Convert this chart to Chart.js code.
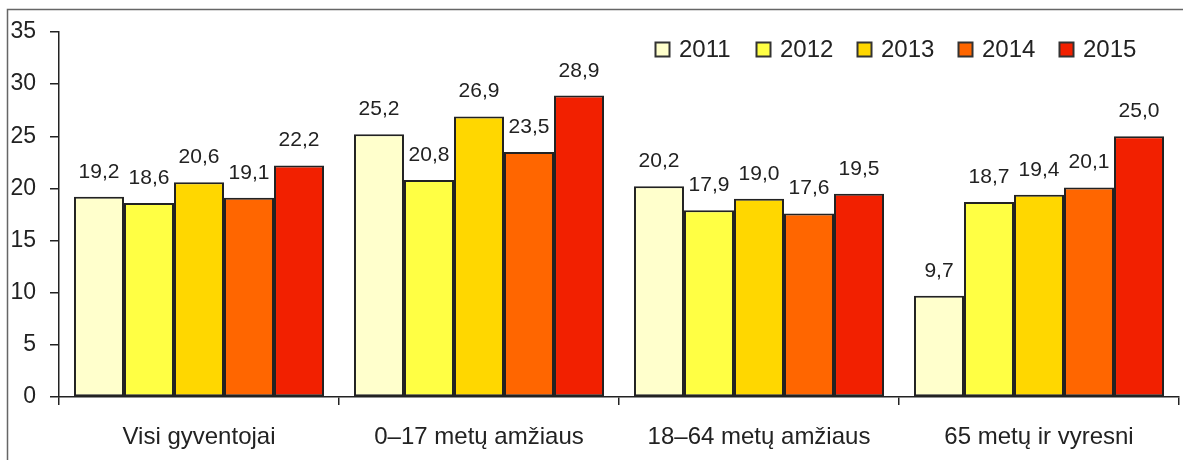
<!DOCTYPE html>
<html>
<head>
<meta charset="utf-8">
<script src="https://cdn.jsdelivr.net/npm/chart.js@4"></script>
<style>
  html, body { margin: 0; padding: 0; background: #fff; }
  #wrap { position: relative; width: 1183px; height: 460px; }
</style>
</head>
<body>
<div id="wrap"><canvas id="myChart" width="1183" height="460"></canvas></div>
<script>
// datos
const categorias = ['Visi gyventojai', '0\u201317 metų amžiaus', '18\u201364 metų amžiaus', '65 metų ir vyresni'];
const anios = ['2011', '2012', '2013', '2014', '2015'];
const v2011 = [19.2, 25.2, 20.2, 9.7];
const v2012 = [18.6, 20.8, 17.9, 18.7];
const v2013 = [20.6, 26.9, 19.0, 19.4];
const v2014 = [19.1, 23.5, 17.6, 20.1];
const v2015 = [22.2, 28.9, 19.5, 25.0];
const yTicks = [0, 5, 10, 15, 20, 25, 30, 35];

const colores = ['#FFFFCC', '#FFFF44', '#FFD700', '#FF6600', '#F22000'];
const FONT = 'Liberation Sans, Arial, sans-serif';

const series = [v2011, v2012, v2013, v2014, v2015];

// marco gris a la izquierda y arriba
const marco = {
  id: 'marco',
  beforeDraw(chart) {
    const c = chart.ctx;
    c.save();
    c.strokeStyle = '#666';
    c.lineWidth = 1.5;
    c.beginPath();
    c.moveTo(7.5, 460);
    c.lineTo(7.5, 9.5);
    c.lineTo(1183, 9.5);
    c.stroke();
    c.restore();
  }
};

// etiquetas de valores encima de cada barra
const etiquetas = {
  id: 'etiquetas',
  afterDatasetsDraw(chart) {
    const c = chart.ctx;
    c.save();
    c.font = '21px ' + FONT;
    c.fillStyle = '#222';
    c.textAlign = 'center';
    c.textBaseline = 'alphabetic';
    chart.data.datasets.forEach((ds, i) => {
      chart.getDatasetMeta(i).data.forEach((bar, j) => {
        const txt = ds.data[j].toFixed(1).replace('.', ',');
        c.fillText(txt, bar.x, bar.y - 19);
      });
    });
    c.restore();
  }
};

// leyenda propia arriba a la derecha
const leyenda = {
  id: 'leyenda',
  afterDraw(chart) {
    const c = chart.ctx;
    c.save();
    c.font = '24px ' + FONT;
    c.textBaseline = 'middle';
    c.textAlign = 'left';
    chart.data.datasets.forEach((ds, i) => {
      const x = 655 + i * 101;
      c.fillStyle = ds.backgroundColor;
      c.fillRect(x, 42, 15, 15);
      c.strokeStyle = '#333';
      c.lineWidth = 2;
      c.strokeRect(x + 0.5, 42.5, 14, 14);
      c.fillStyle = '#222';
      c.fillText(ds.label, x + 24, 50);
    });
    c.restore();
  }
};

const datasets = anios.map((a, i) => ({
  label: a,
  data: series[i],
  backgroundColor: colores[i],
  borderColor: '#222',
  borderWidth: 2,
  borderSkipped: false,
  barPercentage: 1.0,
  categoryPercentage: 0.893
}));

const ctx = document.getElementById('myChart');
new Chart(ctx, {
  type: 'bar',
  data: { labels: categorias, datasets: datasets },
  options: {
    responsive: false,
    animation: false,
    layout: { padding: { top: 32, right: 4, left: 0, bottom: 0 } },
    plugins: { legend: { display: false }, tooltip: { enabled: false } },
    scales: {
      x: {
        grid: { offset: true, drawOnChartArea: false, drawTicks: true, tickLength: 8, color: '#222', lineWidth: 1.5 },
        border: { display: true, color: '#222', width: 1.5 },
        ticks: { color: '#222', font: { family: FONT, size: 24 }, padding: 18, maxRotation: 0 },
        afterFit: (s) => { s.height = 63; }
      },
      y: {
        min: 0,
        max: 35,
        afterBuildTicks: (s) => { s.ticks = yTicks.map(v => ({ value: v })); },
        grid: { drawOnChartArea: false, drawTicks: true, tickLength: 9, color: '#222', lineWidth: 1.5 },
        border: { display: true, color: '#222', width: 1.5 },
        ticks: { color: '#222', font: { family: FONT, size: 23 }, padding: 14 },
        afterFit: (s) => { s.width = 59; }
      }
    }
  },
  plugins: [marco, etiquetas, leyenda]
});
</script>
</body>
</html>
